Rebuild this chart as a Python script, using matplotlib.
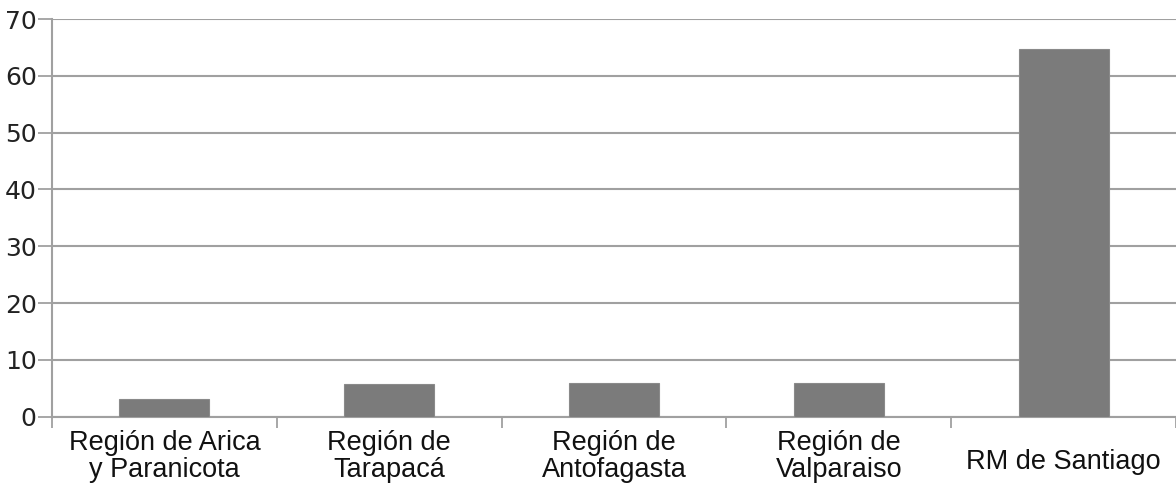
import matplotlib
matplotlib.use("Agg")
import matplotlib.pyplot as plt
import matplotlib.transforms as mtransforms
import numpy as np

categories = ["Región de Arica\ny Paranicota", "Región de\nTarapacá", "Región de\nAntofagasta",
              "Región de\nValparaiso", "RM de Santiago"]
values = [3.1, 5.8, 5.9, 6.0, 64.8]
yticks = [0, 10, 20, 30, 40, 50, 60, 70]

W, H = 1176, 491
fig = plt.figure(figsize=(W / 100, H / 100), dpi=100)
left, right, top, bottom = 52, 1176, 19, 416.7
ax = fig.add_axes([left / W, 1 - bottom / H, (right - left) / W, (bottom - top) / H])

x = np.arange(len(categories))
ax.bar(x, values, width=0.4, color="#7b7b7b", edgecolor="#8a8a8a", linewidth=0.8, zorder=3)

ax.set_xlim(-0.5, len(categories) - 0.5)
ax.set_ylim(0, 70)
ax.set_yticks(yticks)
ax.set_yticklabels([str(v) for v in yticks], fontsize=18, family="DejaVu Sans", color="#222222")
ax.yaxis.grid(True, color="#a0a0a0", linewidth=1.5, zorder=0)
ax.set_axisbelow(True)

ax.set_xticks(np.arange(-0.5, len(categories) - 0.4, 1.0))
ax.set_xticklabels([])
ax.tick_params(axis="x", length=8, width=1.3, color="#a0a0a0", direction="out")
ax.tick_params(axis="y", length=10, width=1.3, color="#a0a0a0", direction="out", pad=1)

for s in ["top", "right"]:
    ax.spines[s].set_visible(False)
for s in ["left", "bottom"]:
    ax.spines[s].set_color("#a0a0a0")
    ax.spines[s].set_linewidth(1.5)

trans = mtransforms.blended_transform_factory(ax.transData, ax.transAxes)
for xi, lab in zip(x, categories):
    yy = -0.100 if "\n" in lab else -0.115
    ax.text(xi, yy, lab, transform=trans, ha="center", va="center",
            multialignment="center", fontsize=19.5, family="Liberation Sans",
            color="#111111", linespacing=1.02)

fig.savefig("out.png", dpi=100)
